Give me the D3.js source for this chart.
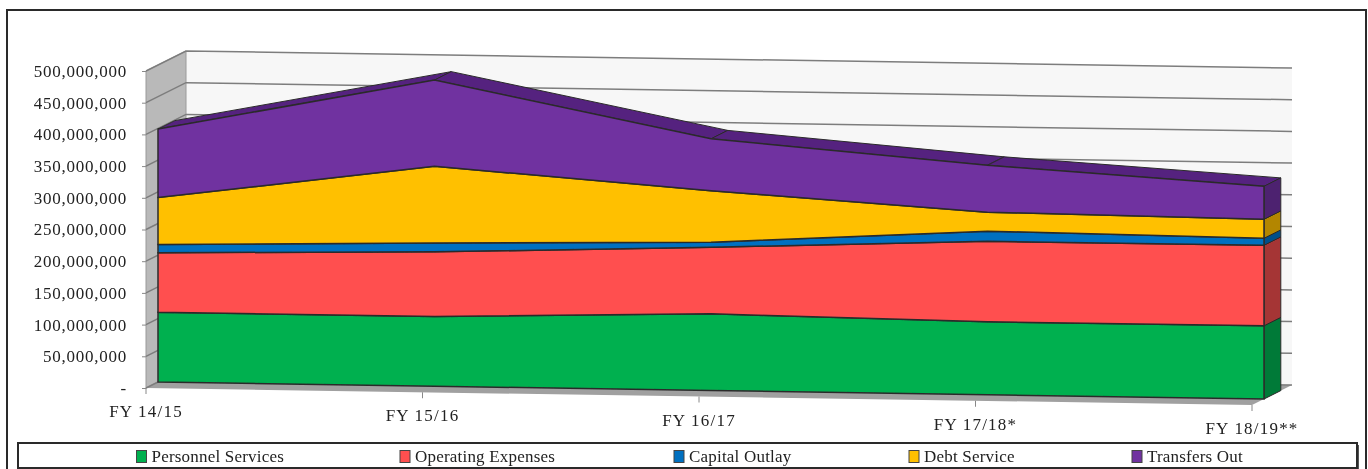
<!DOCTYPE html>
<html>
<head>
<meta charset="utf-8">
<script src="https://d3js.org/d3.v7.min.js"></script>
<style>
  html, body { margin: 0; padding: 0; background: #fff; }
  svg { display: block; }
  text { font-family: "Liberation Serif", serif; fill: #222; }
</style>
</head>
<body>
<div id="chart"></div>
<script>
const categories = ['FY 14/15', 'FY 15/16', 'FY 16/17', 'FY 17/18*', 'FY 18/19**']
const seriesNames = ['Personnel Services', 'Operating Expenses', 'Capital Outlay', 'Debt Service', 'Transfers Out']
const personnel = [110000000, 110000000, 121000000, 115000000, 115500000]
const operating = [94000000, 102000000, 105000000, 127000000, 127000000]
const capital = [13000000, 14000000, 8000000, 16000000, 11000000]
const debt = [74000000, 121000000, 81000000, 30000000, 30000000]
const transfers = [108000000, 136000000, 82000000, 74000000, 52000000]
const yTicks = [0, 50000000, 100000000, 150000000, 200000000, 250000000, 300000000, 350000000, 400000000, 450000000, 500000000]
const frontColors = ['#00b050', '#ff5050', '#0070c0', '#ffc000', '#7030a0']
const endColors = ['#007a37', '#a53434', '#00508a', '#b38600', '#4d2070']
const topColor = '#55217f'
const legendX = [136.5, 400, 674, 909, 1132]

const width = 1368
const height = 469

// floor front edge runs downhill from left to right, the whole box is sheared by it
const x = d3.scalePoint().domain(categories).range([146, 1252])
const y = d3.scaleLinear().domain([0, 500000000]).range([388, 71])
const shear = d3.scaleLinear().domain([146, 1252]).range([0, 17])
const depthX = d3.scaleLinear().domain([0, 1]).range([0, 40])
const depthY = d3.scaleLinear().domain([0, 1]).range([0, -20])

// category position + value + depth (0 front of box, 1 back wall) to screen
const project = (px, value, depth) => [
  px + depthX(depth),
  y(value) + shear(px) + depthY(depth)
]
const poly = (pts) => 'M' + pts.map((p) => p.join(',')).join('L') + 'Z'

const rows = categories.map((c, i) => ({
  category: c,
  [seriesNames[0]]: personnel[i],
  [seriesNames[1]]: operating[i],
  [seriesNames[2]]: capital[i],
  [seriesNames[3]]: debt[i],
  [seriesNames[4]]: transfers[i]
}))
const stacked = d3.stack().keys(seriesNames)(rows)

const svg = d3.select('#chart').append('svg').attr('width', width).attr('height', height)
const defs = svg.append('defs')
defs.append('filter').attr('id', 'soft').append('feGaussianBlur').attr('stdDeviation', 0.4)
const root = svg.append('g').attr('filter', 'url(#soft)')

// outer frame, runs off the bottom of the picture
root.append('rect')
  .attr('x', 7).attr('y', 10).attr('width', 1359).attr('height', 480)
  .attr('fill', '#fff').attr('stroke', '#2b2b2b').attr('stroke-width', 2)

// walls
const xL = x.range()[0]
const xR = x.range()[1]
root.append('path')
  .attr('d', poly([project(xL, 500000000, 1), project(xR, 500000000, 1), project(xR, 0, 1), project(xL, 0, 1)]))
  .attr('fill', '#f7f7f7')
root.append('path')
  .attr('d', poly([project(xL, 500000000, 0), project(xL, 500000000, 1), project(xL, 0, 1), project(xL, 0, 0)]))
  .attr('fill', '#b9b9b9').attr('stroke', '#9a9a9a').attr('stroke-width', 1)
root.append('path')
  .attr('d', poly([project(xL, 0, 0), project(xL, 0, 1), project(xR, 0, 1), project(xR, 0, 0)]))
  .attr('fill', '#a0a0a0')

// gridlines on back wall and side wall
root.append('g').selectAll('path').data(yTicks).join('path')
  .attr('d', (t) => d3.line()([project(xL, t, 0), project(xL, t, 1), project(xR, t, 1)]))
  .attr('fill', 'none').attr('stroke', '#7d7d7d').attr('stroke-width', 1.5)

// y axis
root.append('g')
  .attr('transform', `translate(${xL},0)`)
  .call(d3.axisLeft(y).tickValues(yTicks).tickSize(4).tickPadding(15)
    .tickFormat((d) => (d === 0 ? '-' : d3.format(',')(d))))
  .call((g) => g.select('.domain').remove())
  .call((g) => g.selectAll('line').attr('stroke', '#888'))
  .call((g) => g.selectAll('text')
    .style('font-family', '"Liberation Serif", serif')
    .style('font-size', '17px')
    .style('letter-spacing', '0.75px')
    .attr('fill', '#222'))

// x axis ticks and labels follow the sheared floor edge
const xAxis = root.append('g').selectAll('g').data(categories).join('g')
  .attr('transform', (c) => {
    const p = project(x(c), 0, 0)
    return `translate(${p[0]},${p[1]})`
  })
xAxis.append('line').attr('y2', 6).attr('stroke', '#888')
xAxis.append('text')
  .attr('y', 29).attr('text-anchor', 'middle')
  .style('font-size', '17px').style('letter-spacing', '1.2px')
  .text((c) => c)

// the stacked ribbon sits between these depths
const dFront = 0.3
const dBack = 0.72
const line = '#2b2b2b'

// top facet of the last series
const topLayer = stacked[stacked.length - 1]
const topSegs = d3.pairs(categories.map((c, i) => ({ c, v: topLayer[i][1] })))
root.append('g').selectAll('path').data(topSegs).join('path')
  .attr('d', ([a, b]) => poly([
    project(x(a.c), a.v, dFront), project(x(a.c), a.v, dBack),
    project(x(b.c), b.v, dBack), project(x(b.c), b.v, dFront)
  ]))
  .attr('fill', topColor).attr('stroke', line).attr('stroke-width', 1)

// right end faces
const last = categories.length - 1
root.append('g').selectAll('path').data(stacked).join('path')
  .attr('d', (s) => poly([
    project(x(categories[last]), s[last][0], dFront), project(x(categories[last]), s[last][1], dFront),
    project(x(categories[last]), s[last][1], dBack), project(x(categories[last]), s[last][0], dBack)
  ]))
  .attr('fill', (s, i) => endColors[i]).attr('stroke', line).attr('stroke-width', 1)

// front faces
const area = d3.area()
  .x((d) => project(x(d.data.category), 0, dFront)[0])
  .y0((d) => project(x(d.data.category), d[0], dFront)[1])
  .y1((d) => project(x(d.data.category), d[1], dFront)[1])
root.append('g').selectAll('path').data(stacked).join('path')
  .attr('d', area)
  .attr('fill', (s, i) => frontColors[i]).attr('stroke', line).attr('stroke-width', 1.5)

// legend
root.append('rect').attr('x', 20).attr('y', 445).attr('width', 1339).attr('height', 26).attr('fill', '#555')
root.append('rect')
  .attr('x', 18).attr('y', 443).attr('width', 1339).attr('height', 25)
  .attr('fill', '#fff').attr('stroke', '#2b2b2b').attr('stroke-width', 2)
const legend = root.append('g').selectAll('g').data(seriesNames).join('g')
  .attr('transform', (d, i) => `translate(${legendX[i]},450.5)`)
legend.append('rect')
  .attr('width', 10).attr('height', 12)
  .attr('fill', (d, i) => frontColors[i]).attr('stroke', '#444').attr('stroke-width', 1)
legend.append('text')
  .attr('x', 15).attr('y', 11)
  .style('font-size', '17px').style('letter-spacing', '0.2px')
  .text((d) => d)
</script>
</body>
</html>
